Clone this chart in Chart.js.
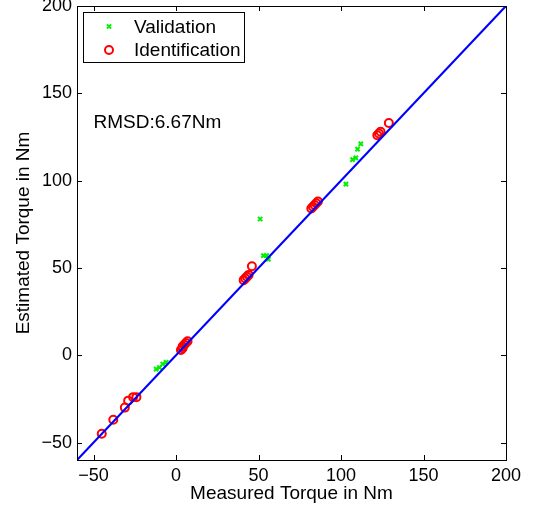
<!DOCTYPE html>
<html>
<head>
<meta charset="utf-8">
<script src="https://cdn.jsdelivr.net/npm/chart.js@4"></script>
<style>
  html, body { margin: 0; padding: 0; background: #fff; }
  #wrap { width: 533px; height: 509px; }
</style>
</head>
<body>
<div id="wrap"><canvas id="torque-chart"></canvas></div>
<script>
// measured vs estimated torque
var validationX = [-12, -10, -8, -6, 4, 5, 51, 53, 55, 56, 103, 107, 109, 110, 112];
var validationY = [-8, -7, -5, -4, 5, 6, 78, 57, 57, 55, 98, 112, 113, 118, 121];
var identX = [-45, -38, -31, -29, -26, -24, 3, 4, 4, 5, 6, 7, 41, 42, 43, 44, 46, 82, 83, 84, 85, 86, 122, 123, 124, 129];
var identY = [-45, -37, -30, -26, -24, -24, 3, 4, 5, 6, 7, 8, 43, 44, 45, 46, 51, 84, 85, 86, 87, 88, 126, 127, 128, 133];
var lineX = [-60, 200];
var lineY = [-60, 200];
var tickVals = [-50, 0, 50, 100, 150, 200];
var rmsdText = 'RMSD:6.67Nm';

function pts(xs, ys) {
    return xs.map(function(v, i) { return {x: v, y: ys[i]}; });
}

var font = "'Liberation Sans', Arial, Helvetica, sans-serif";

// matlab style box with inward ticks, legend and text
var matlabBox = {
    id: 'matlabBox',
    afterDatasetsDraw: function(chart) {
        var ctx = chart.ctx;
        var a = chart.chartArea;
        var sx = chart.scales.x, sy = chart.scales.y;
        ctx.save();
        ctx.strokeStyle = '#000';
        ctx.lineWidth = 1;
        ctx.strokeRect(Math.round(a.left) + 0.5, Math.round(a.top) + 0.5,
            Math.round(a.right - a.left), Math.round(a.bottom - a.top));
        ctx.beginPath();
        tickVals.forEach(function(v) {
            var px = Math.round(sx.getPixelForValue(v)) + 0.5;
            ctx.moveTo(px, a.bottom); ctx.lineTo(px, a.bottom - 5);
            ctx.moveTo(px, a.top); ctx.lineTo(px, a.top + 5);
            var py = Math.round(sy.getPixelForValue(v)) + 0.5;
            ctx.moveTo(a.left, py); ctx.lineTo(a.left + 5, py);
            ctx.moveTo(a.right, py); ctx.lineTo(a.right - 5, py);
        });
        ctx.stroke();

        // RMSD annotation
        ctx.fillStyle = '#000';
        ctx.font = '19px ' + font;
        ctx.textBaseline = 'middle';
        ctx.textAlign = 'left';
        ctx.fillText(rmsdText, sx.getPixelForValue(-50), sy.getPixelForValue(133));

        // legend box
        var lx = Math.round(a.left) + 6, ly = Math.round(a.top) + 6;
        ctx.fillStyle = '#fff';
        ctx.fillRect(lx, ly, 161, 50);
        ctx.strokeRect(lx + 0.5, ly + 0.5, 161, 50);
        var items = chart.data.datasets.filter(function(d) { return d.label; });
        items.forEach(function(d, i) {
            var cy = ly + 14.5 + i * 23.5;
            ctx.strokeStyle = d.borderColor;
            ctx.fillStyle = 'rgba(0,0,0,0)';
            ctx.lineWidth = d.borderWidth;
            Chart.helpers.drawPoint(ctx, {pointStyle: d.pointStyle, radius: d.pointRadius, borderWidth: d.borderWidth}, lx + 26, cy);
            ctx.fillStyle = '#000';
            ctx.font = '19px ' + font;
            ctx.fillText(d.label, lx + 51, cy + 1);
        });
        ctx.restore();
    }
};

new Chart(document.getElementById('torque-chart'), {
    type: 'scatter',
    data: {
        datasets: [
            {
                label: '',
                type: 'line',
                data: pts(lineX, lineY),
                borderColor: '#0000ff',
                borderWidth: 2.2,
                pointRadius: 0,
                fill: false,
                order: 0
            },
            {
                label: 'Validation',
                data: pts(validationX, validationY),
                pointStyle: 'crossRot',
                pointRadius: 3,
                borderWidth: 2,
                borderColor: '#00f000',
                backgroundColor: '#00f000',
                order: 2
            },
            {
                label: 'Identification',
                data: pts(identX, identY),
                pointStyle: 'circle',
                pointRadius: 4,
                borderWidth: 2,
                borderColor: '#ff0000',
                backgroundColor: 'rgba(0,0,0,0)',
                order: 1
            }
        ]
    },
    plugins: [matlabBox],
    options: {
        responsive: true,
        maintainAspectRatio: false,
        animation: false,
        layout: { padding: { left: 0, right: 27, top: 6, bottom: 0 } },
        plugins: {
            legend: { display: false },
            tooltip: { enabled: false }
        },
        scales: {
            x: {
                type: 'linear',
                min: -60,
                max: 200,
                afterBuildTicks: function(s) { s.ticks = tickVals.map(function(v) { return {value: v}; }); },
                afterFit: function(s) { s.height = 49; s.paddingLeft = 0; s.paddingRight = 0; },
                grid: { display: false, drawTicks: false },
                border: { display: false },
                ticks: {
                    color: '#000',
                    font: { size: 18, family: font },
                    padding: 5,
                    maxRotation: 0,
                    autoSkip: false,
                    callback: function(v) { return String(v).replace('-', '\u2212'); }
                },
                title: {
                    display: true,
                    text: 'Measured Torque in Nm',
                    color: '#000',
                    font: { size: 19, family: font },
                    padding: { top: 0, bottom: 4 }
                }
            },
            y: {
                type: 'linear',
                min: -60,
                max: 200,
                afterBuildTicks: function(s) { s.ticks = tickVals.map(function(v) { return {value: v}; }); },
                afterFit: function(s) { s.width = 77; s.paddingTop = 0; s.paddingBottom = 0; },
                grid: { display: false, drawTicks: false },
                border: { display: false },
                ticks: {
                    color: '#000',
                    font: { size: 18, family: font },
                    padding: 5,
                    autoSkip: false,
                    callback: function(v) { return String(v).replace('-', '\u2212'); }
                },
                title: {
                    display: true,
                    text: 'Estimated Torque in Nm',
                    color: '#000',
                    font: { size: 19, family: font },
                    padding: { top: 12, bottom: 0 }
                }
            }
        }
    }
});
</script>
</body>
</html>
